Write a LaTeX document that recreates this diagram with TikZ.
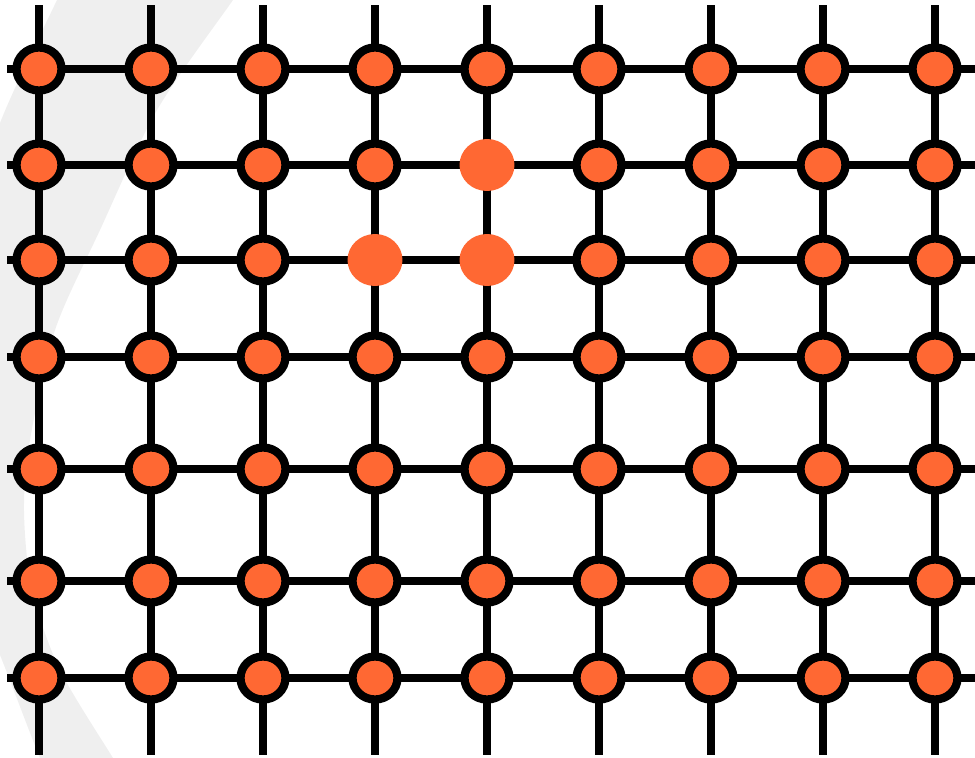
\documentclass[tikz,border=0pt]{standalone}
\usepackage{tikz}
\usetikzlibrary{shapes.geometric}
\definecolor{dotorange}{RGB}{255,104,51}
\definecolor{ringgray}{RGB}{239,239,239}

\begin{document}
\begin{tikzpicture}[
    x=0.02cm, y=-0.02cm,
    site/.style = {ellipse,draw=black,line width=0.165cm,fill=dotorange,minimum width=0.9cm,minimum height=0.86cm,inner sep=0pt},
    hole/.style = {ellipse,fill=dotorange,minimum width=1.1cm,minimum height=1.04cm,inner sep=0pt},
    bond/.style = {draw=black,line width=0.15cm}
  ]
  \useasboundingbox (0,0) rectangle (975,758);
  \clip (0,0) rectangle (975,758);

  % pale band behind the lattice
  \fill[ringgray] plot[smooth] coordinates {(250,-25) (233,0) (157,110) (100,230) (55,330) (30,440) (24,511) (32,590) (60,670) (113,758) (130,785)}
    -- plot[smooth] coordinates {(55,785) (40,758) (0,655) (-40,560) (-60,400) (-40,250) (0,123) (57,0) (70,-25)} -- cycle;

  \foreach \c in {1,...,9} {
    \coordinate (top\c) at (39+112*\c-112, 5);
    \coordinate (bot\c) at (39+112*\c-112, 755);
    \draw[bond] (top\c) -- (bot\c);
  }
  \foreach \r/\y in {1/69, 2/165, 3/260, 4/357, 5/469, 6/581, 7/678} {
    \coordinate (lft\r) at (7,\y);
    \coordinate (rgt\r) at (990,\y);
    \draw[bond] (lft\r) -- (rgt\r);
  }

  \foreach \r/\y in {1/69, 2/165, 3/260, 4/357, 5/469, 6/581, 7/678} {
    \foreach \c in {1,...,9} {
      \def\kind{site}
      \ifnum\r\c=25 \def\kind{hole}\fi
      \ifnum\r\c=34 \def\kind{hole}\fi
      \ifnum\r\c=35 \def\kind{hole}\fi
      \node[\kind] (n\r-\c) at (39+112*\c-112,\y) {};
    }
  }

\end{tikzpicture}
\end{document}
